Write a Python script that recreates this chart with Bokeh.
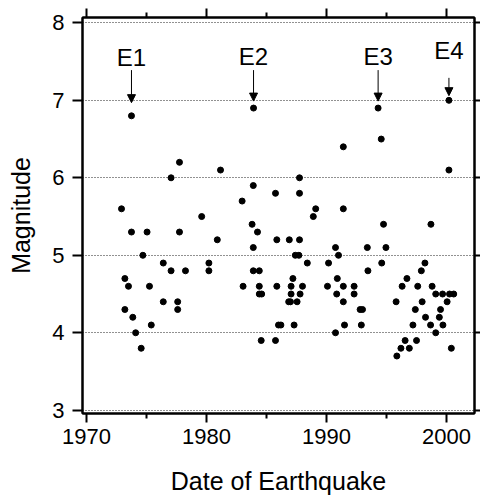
from bokeh.plotting import figure
from bokeh.models import LinearAxis, FixedTicker, Range1d, Arrow, NormalHead, ColumnDataSource
from bokeh.core.properties import value
from bokeh.embed import file_html
from bokeh.resources import INLINE

quake_year = [
    1972.92, 1973.75, 1975.05, 1974.7, 1973.2, 1973.5, 1975.25, 1973.2, 1973.86, 1974.1,
    1974.56, 1975.4, 1976.4, 1977.05, 1978.25, 1976.4, 1977.6, 1977.6, 1977.75, 1977.05,
    1977.75, 1973.75,
    1981.17, 1979.6, 1980.9, 1980.2, 1980.2, 1982.97, 1983.9, 1983.8, 1984.25, 1983.9,
    1983.9, 1984.4, 1983.05, 1984.4, 1984.4, 1984.6, 1984.56, 1985.75, 1985.75, 1985.86,
    1985.86, 1986.0, 1986.2, 1986.9, 1987.75, 1987.75, 1987.75, 1987.4, 1987.7, 1988.4,
    1987.2, 1987.05, 1988.0, 1987.05, 1987.8, 1986.85, 1987.0, 1987.55, 1987.3, 1988.9,
    1989.1, 1983.92,
    1991.4, 1994.56, 2000.2, 1991.4, 1994.75, 1998.7, 1990.75, 1991.0, 1990.17, 1993.4,
    1994.95, 1994.6, 1993.45, 1990.9, 1990.08, 1991.4, 1992.3, 1990.85, 1992.3, 1991.4,
    1992.8, 1993.0, 1991.5, 1992.9, 1990.75, 1995.8, 1996.3, 1996.7, 1997.6, 1997.9,
    1998.2, 1998.8, 1997.97, 1997.4, 1998.25, 1997.2, 1998.67, 1999.1, 1999.1, 1999.67,
    1999.5, 1999.4, 1999.7, 2000.05, 2000.25, 2000.6, 2000.4, 1996.55, 1997.5, 1996.2,
    1996.9, 1995.86, 1994.3, 2000.2,
]
quake_mag = [
    5.6, 5.3, 5.3, 5.0, 4.7, 4.6, 4.6, 4.3, 4.2, 4.0,
    3.8, 4.1, 4.9, 4.8, 4.8, 4.4, 4.4, 4.3, 5.3, 6.0,
    6.2, 6.8,
    6.1, 5.5, 5.2, 4.9, 4.8, 5.7, 5.9, 5.4, 5.3, 5.1,
    4.8, 4.8, 4.6, 4.6, 4.5, 4.5, 3.9, 3.9, 5.8, 5.2,
    4.6, 4.1, 4.1, 5.2, 6.0, 5.8, 5.2, 5.0, 5.0, 4.9,
    4.7, 4.6, 4.6, 4.5, 4.5, 4.4, 4.4, 4.4, 4.1, 5.5,
    5.6, 6.9,
    6.4, 6.5, 6.1, 5.6, 5.4, 5.4, 5.1, 5.0, 4.9, 5.1,
    5.1, 4.9, 4.8, 4.7, 4.6, 4.6, 4.6, 4.5, 4.5, 4.4,
    4.3, 4.3, 4.1, 4.1, 4.0, 4.4, 4.6, 4.7, 4.6, 4.8,
    4.9, 4.6, 4.4, 4.3, 4.2, 4.1, 4.1, 4.0, 4.5, 4.5,
    4.3, 4.2, 4.1, 4.4, 4.5, 4.5, 3.8, 3.9, 3.9, 3.8,
    3.8, 3.7, 6.9, 7.0,
]

event_labels = ["E1", "E2", "E3", "E4"]
event_year = [1973.75, 1983.92, 1994.3, 2000.2]
event_label_y = [7.55, 7.57, 7.57, 7.64]
event_arrow_top = [7.39, 7.39, 7.39, 7.29]
event_arrow_tip = [6.97, 6.99, 6.99, 7.06]

x_major = [1970, 1980, 1990, 2000]
x_minor = [1975, 1985, 1995]
y_ticks = [3, 4, 5, 6, 7, 8]

FONT = "Liberation Sans"

p = figure(width=480, height=497,
           x_range=Range1d(1969.67, 2002.33), y_range=Range1d(2.958, 8.069),
           output_backend="svg", toolbar_location=None,
           min_border_left=82, min_border_right=6, min_border_top=17, min_border_bottom=82,
           x_axis_label="Date of Earthquake", y_axis_label="Magnitude")
p.background_fill_color = "white"
p.border_fill_color = "white"
p.outline_line_color = "black"
p.outline_line_width = 2

xt = FixedTicker(ticks=x_major, minor_ticks=x_minor)
yt = FixedTicker(ticks=y_ticks)

p.xaxis.ticker = xt
p.yaxis.ticker = yt

for ax in (p.xaxis[0], p.yaxis[0]):
    ax.axis_line_width = 2
    ax.axis_line_color = "black"
    ax.major_tick_line_width = 2
    ax.minor_tick_line_width = 2
    ax.major_tick_in = 0
    ax.minor_tick_in = 0
    ax.major_label_text_font = FONT
    ax.major_label_text_font_size = "22px"
    ax.major_label_text_color = "black"
    ax.axis_label_text_font = FONT
    ax.axis_label_text_font_size = "25px"
    ax.axis_label_text_font_style = "normal"
    ax.axis_label_text_color = "black"

p.xaxis.major_tick_out = 9
p.xaxis.minor_tick_out = 5
p.xaxis.major_label_standoff = 6
p.xaxis.axis_label_standoff = 20
p.yaxis.major_tick_out = 10
p.yaxis.minor_tick_out = 0
p.yaxis.major_label_standoff = 8
p.yaxis.axis_label_standoff = 14

top = LinearAxis(ticker=FixedTicker(ticks=x_major, minor_ticks=x_minor))
right = LinearAxis(ticker=FixedTicker(ticks=y_ticks))
for ax, mt, mn in ((top, 9, 5), (right, 6, 0)):
    ax.axis_line_width = 2
    ax.major_tick_line_width = 2
    ax.minor_tick_line_width = 2
    ax.major_tick_in = 0
    ax.minor_tick_in = 0
    ax.major_tick_out = mt
    ax.minor_tick_out = mn
    ax.major_label_text_font_size = "1px"
    ax.major_label_text_color = None
    ax.major_label_standoff = 0
p.add_layout(top, "above")
p.add_layout(right, "right")

p.xgrid.visible = False
p.ygrid.ticker = yt
p.ygrid.grid_line_color = "#222222"
p.ygrid.grid_line_width = 1
p.ygrid.grid_line_dash = "1 2"

p.scatter(quake_year, quake_mag, size=6, color="black")

src = ColumnDataSource(dict(x=event_year, y=event_label_y, t=event_labels,
                            y0=event_arrow_top, y1=event_arrow_tip))
p.text(x="x", y="y", text="t", source=src, text_align="center", text_baseline="middle",
       text_font=value(FONT), text_font_size="24px", text_color="black")
p.add_layout(Arrow(end=NormalHead(size=8, fill_color="black", line_color="black", line_width=1),
                   x_start="x", y_start="y0", x_end="x", y_end="y1", source=src,
                   line_color="black", line_width=1))

open("out.html", "w").write(file_html(p, INLINE))
